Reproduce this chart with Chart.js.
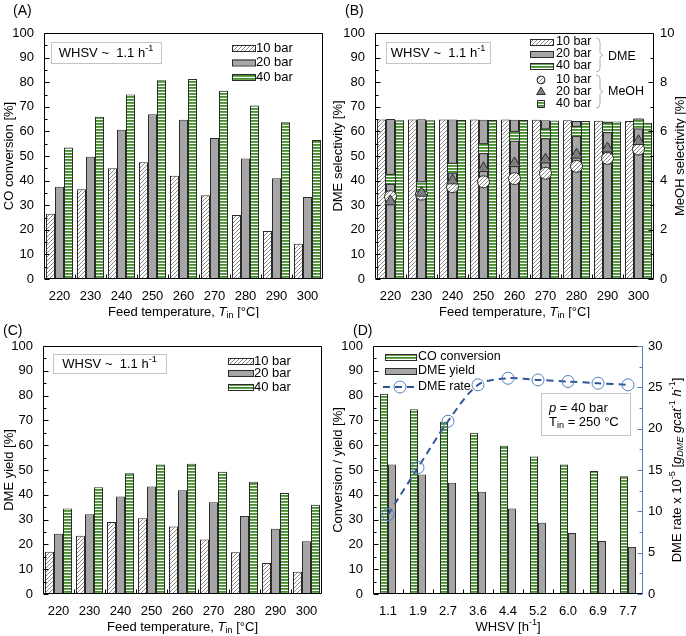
<!DOCTYPE html>
<html>
<head>
<meta charset="utf-8">
<script src="https://cdn.jsdelivr.net/npm/chart.js@4.4.0/dist/chart.umd.min.js"></script>
<style>
body { margin: 0; background: #fff; width: 686px; height: 636px; position: relative; overflow: hidden; }
canvas { position: absolute; }
</style>
</head>
<body>
<canvas id="chA" width="330" height="318" style="left:0;top:0"></canvas>
<canvas id="chB" width="361" height="318" style="left:325px;top:0"></canvas>
<canvas id="chC" width="330" height="318" style="left:0;top:318px"></canvas>
<canvas id="chD" width="361" height="318" style="left:325px;top:318px"></canvas>
<script>
// data
const temps = ['220', '230', '240', '250', '260', '270', '280', '290', '300']
const pressures = ['10 bar', '20 bar', '40 bar']

const coConv10 = [26.5, 36.5, 45.0, 47.5, 42.0, 34.0, 26.0, 19.5, 14.3]
const coConv20 = [37.5, 49.7, 60.7, 67.0, 64.7, 57.3, 49.0, 41.0, 33.3]
const coConv40 = [53.5, 66.0, 75.0, 80.8, 81.3, 76.5, 70.5, 63.7, 56.5]

const dmeSel10 = [64.8, 64.8, 64.8, 64.8, 64.8, 64.7, 64.5, 64.3, 64.2]
const dmeSel20 = [65.0, 64.9, 64.8, 64.7, 64.7, 64.5, 64.2, 64.0, 63.8]
const dmeSel40 = [64.5, 64.5, 64.6, 64.6, 64.6, 64.4, 64.2, 64.0, 63.5]
const meohSel10 = [3.35, 3.45, 3.75, 3.95, 4.08, 4.3, 4.58, 4.9, 5.28]
const meohSel20 = [3.15, 3.5, 4.0, 4.5, 4.7, 4.85, 5.05, 5.3, 5.6]
const meohSel40 = [4.05, 3.75, 4.5, 5.3, 5.8, 5.9, 6.0, 6.15, 6.3]

const dmeYield10 = [17.0, 23.5, 29.0, 30.5, 27.2, 22.0, 16.8, 12.5, 9.0]
const dmeYield20 = [24.3, 32.2, 39.3, 43.3, 41.8, 37.0, 31.5, 26.3, 21.3]
const dmeYield40 = [34.5, 43.0, 48.7, 52.2, 52.5, 49.3, 45.3, 40.7, 36.0]

const whsv = ['1.1', '1.9', '2.7', '3.6', '4.4', '5.2', '6.0', '6.9', '7.7']
const whsvCoConv = [80.7, 74.5, 69.5, 65.0, 59.8, 55.4, 52.2, 49.6, 47.5]
const whsvDmeYield = [52.2, 48.2, 44.9, 41.2, 34.5, 28.7, 24.6, 21.4, 19.0]
const whsvDmeRate = [9.6, 15.3, 20.9, 25.3, 26.1, 25.9, 25.7, 25.5, 25.3]

const FAM = '"Liberation Sans", Arial, sans-serif'
const edge = '#2b2b2b'
const grayFill = '#a6a6a6'
const boxLine = '#c4c4c4'
const blueLine = '#2f5597'
const bluePoint = '#4f81bd'

Chart.defaults.font.family = FAM
Chart.defaults.font.size = 13
Chart.defaults.color = '#000'

function makeHatch() {
  var c = document.createElement('canvas')
  c.width = 4; c.height = 4
  var g = c.getContext('2d')
  g.fillStyle = '#fff'; g.fillRect(0, 0, 4, 4)
  g.strokeStyle = '#8a8a8a'; g.lineWidth = 1
  g.beginPath()
  g.moveTo(0, 4); g.lineTo(4, 0)
  g.moveTo(-1, 1); g.lineTo(1, -1)
  g.moveTo(3, 5); g.lineTo(5, 3)
  g.stroke()
  return g.createPattern(c, 'repeat')
}

function makeStripes() {
  var c = document.createElement('canvas')
  c.width = 4; c.height = 3
  var g = c.getContext('2d')
  g.fillStyle = '#fff'; g.fillRect(0, 0, 4, 3)
  g.fillStyle = '#428e2b'; g.fillRect(0, 0, 4, 1.8)
  return g.createPattern(c, 'repeat')
}

const hatch = makeHatch()
const stripes = makeStripes()
const fills = [hatch, grayFill, stripes]

function font(size, italic) {
  return (italic ? 'italic ' : '') + size + 'px ' + FAM
}

// draws text with italic / sub / sup parts
function rich(ctx, segs, x, y, size, align) {
  var w = 0
  var parts = segs.map(function (s) {
    var sz = (s.sub || s.sup) ? size * 0.7 : size
    var f = font(sz, s.it)
    ctx.font = f
    var m = ctx.measureText(s.t).width
    w += m
    return { s: s, f: f, m: m, dy: s.sub ? size * 0.3 : (s.sup ? -size * 0.35 : 0) }
  })
  var cx = align === 'center' ? x - w / 2 : (align === 'right' ? x - w : x)
  ctx.textAlign = 'left'
  ctx.textBaseline = 'middle'
  ctx.fillStyle = '#000'
  parts.forEach(function (p) {
    ctx.font = p.f
    ctx.fillText(p.s.t, cx, y + p.dy)
    cx += p.m
  })
}

function vrich(ctx, segs, x, y, size) {
  ctx.save()
  ctx.translate(x, y)
  ctx.rotate(-Math.PI / 2)
  rich(ctx, segs, 0, 0, size, 'center')
  ctx.restore()
}

function swatch(ctx, x, y, w, h, fill) {
  ctx.fillStyle = fill
  ctx.fillRect(x, y, w, h)
  ctx.strokeStyle = edge
  ctx.lineWidth = 1
  ctx.strokeRect(x + 0.5, y + 0.5, w, h)
}

function infoBox(ctx, x, y, w, h) {
  ctx.strokeStyle = boxLine
  ctx.lineWidth = 1
  ctx.strokeRect(x + 0.5, y + 0.5, w, h)
}

function marker(ctx, style, x, y, r, fill) {
  ctx.fillStyle = fill
  ctx.strokeStyle = edge
  ctx.lineWidth = 1
  ctx.beginPath()
  if (style === 'circle') {
    ctx.arc(x, y, r, 0, Math.PI * 2)
  } else if (style === 'triangle') {
    ctx.moveTo(x, y - r)
    ctx.lineTo(x + r * 0.866, y + r * 0.5)
    ctx.lineTo(x - r * 0.866, y + r * 0.5)
    ctx.closePath()
  } else {
    ctx.rect(x - r * 0.7, y - r * 0.7, r * 1.4, r * 1.4)
  }
  ctx.fill()
  ctx.stroke()
}

function brace(ctx, x, y1, y2) {
  var ym = (y1 + y2) / 2
  ctx.strokeStyle = '#b0b0b0'
  ctx.lineWidth = 1
  ctx.beginPath()
  ctx.moveTo(x - 4, y1)
  ctx.quadraticCurveTo(x, y1, x, y1 + 4)
  ctx.lineTo(x, ym - 2)
  ctx.lineTo(x + 3, ym)
  ctx.lineTo(x, ym + 2)
  ctx.lineTo(x, y2 - 4)
  ctx.quadraticCurveTo(x, y2, x - 4, y2)
  ctx.stroke()
}

const whsvText = [{ t: 'WHSV ~  1.1 h' }, { t: '-1', sup: true }]
const feedTitle = [{ t: 'Feed temperature, ' }, { t: 'T', it: true }, { t: 'in', sub: true }, { t: ' [°C]' }]

// frame, inward ticks and the hand placed texts (one plugin per chart)
function decor(o) {
  return {
    id: 'decor',
    afterDraw(chart) {
      var ctx = chart.ctx
      var a = chart.chartArea
      var L = Math.round(a.left) + 0.5, R = Math.round(a.right) - 0.5
      var T = Math.round(a.top) + 0.5, B = Math.round(a.bottom) - 0.5
      ctx.save()
      ctx.lineWidth = 1
      ctx.strokeStyle = '#000'
      ctx.beginPath()
      ctx.moveTo(R, B); ctx.lineTo(L, B); ctx.lineTo(L, T); ctx.lineTo(R, T)
      if (!o.rightColor) ctx.lineTo(R, B)
      ctx.stroke()
      if (o.rightColor) {
        ctx.strokeStyle = o.rightColor
        ctx.beginPath(); ctx.moveTo(R, T); ctx.lineTo(R, B); ctx.stroke()
      }
      o.axes.forEach(function (ax) {
        var s = chart.scales[ax.id]
        ctx.strokeStyle = ax.color || '#000'
        for (var v = s.min; v <= s.max + 1e-9; v += ax.minor) {
          var y = Math.round(s.getPixelForValue(v)) + 0.5
          var major = Math.abs(v / ax.major - Math.round(v / ax.major)) < 1e-6
          var len = major ? 5 : 3
          ctx.beginPath()
          if (ax.side === 'left') { ctx.moveTo(L, y); ctx.lineTo(L + len, y) }
          else { ctx.moveTo(R, y); ctx.lineTo(R - len, y) }
          ctx.stroke()
        }
      })
      var n = chart.data.labels.length
      var cw = (a.right - a.left) / n
      ctx.strokeStyle = '#000'
      for (var i = 1; i < n; i++) {
        var x = Math.round(a.left + i * cw) + 0.5
        ctx.beginPath(); ctx.moveTo(x, B); ctx.lineTo(x, B - 4); ctx.stroke()
      }
      o.draw(ctx, a)
      ctx.restore()
    }
  }
}

function barSet(label, data, fill, cat) {
  return {
    type: 'bar', label: label, data: data, backgroundColor: fill,
    borderColor: edge, borderWidth: 1, barPercentage: 1, categoryPercentage: cat, order: 5
  }
}

function xScale(h) {
  return {
    grid: { display: false, drawTicks: false }, border: { display: false },
    ticks: { padding: 10, maxRotation: 0, autoSkip: false },
    afterFit: function (s) { s.height = h }
  }
}

function yScale(pos, max, step, w, pad) {
  return {
    position: pos, min: 0, max: max,
    grid: { display: false, drawTicks: false }, border: { display: false },
    ticks: { stepSize: step, padding: pad, crossAlign: 'near' },
    afterFit: function (s) { s.width = w }
  }
}

function baseOptions(pad, scales) {
  return {
    responsive: false, animation: false,
    layout: { padding: pad },
    scales: scales,
    plugins: { legend: { display: false }, tooltip: { enabled: false } }
  }
}

// plot widths are 9 whole categories of 31 px (30 px in D) so bar edges land on pixels
const cat3 = 27 / 31
const cat2 = 16 / 30

// (A) CO conversion
new Chart(document.getElementById('chA'), {
  data: {
    labels: temps,
    datasets: [
      barSet(pressures[0], coConv10, hatch, cat3),
      barSet(pressures[1], coConv20, grayFill, cat3),
      barSet(pressures[2], coConv40, stripes, cat3)
    ]
  },
  options: baseOptions({ top: 33, right: 7, left: 0, bottom: 0 },
    { x: xScale(39), y: yScale('left', 100, 10, 44, 10) }),
  plugins: [decor({
    axes: [{ id: 'y', side: 'left', minor: 5, major: 10 }],
    draw: function (ctx, a) {
      rich(ctx, [{ t: '(A)' }], 13, 11, 14, 'left')
      vrich(ctx, [{ t: 'CO conversion [%]' }], 9, (a.top + a.bottom) / 2, 13)
      rich(ctx, feedTitle, (a.left + a.right) / 2, a.bottom + 33, 13, 'center')
      infoBox(ctx, 51, 42, 110, 21)
      rich(ctx, whsvText, 106, 53, 13, 'center')
      var rows = [48, 62.5, 77]
      rows.forEach(function (y, i) {
        swatch(ctx, 232, y - 3, 23, 6, fills[i])
        rich(ctx, [{ t: pressures[i] }], 256, y, 13, 'left')
      })
    }
  })]
})

// (B) DME and MeOH selectivity
function pointSet(label, data, style, r, fill, order) {
  return {
    type: 'line', label: label, data: data, yAxisID: 'y2', showLine: false,
    pointStyle: style, pointRadius: r, backgroundColor: fill,
    borderColor: edge, borderWidth: 1, order: order
  }
}

new Chart(document.getElementById('chB'), {
  data: {
    labels: temps,
    datasets: [
      barSet(pressures[0], dmeSel10, hatch, cat3),
      barSet(pressures[1], dmeSel20, grayFill, cat3),
      barSet(pressures[2], dmeSel40, stripes, cat3),
      pointSet(pressures[0], meohSel10, 'circle', 6, hatch, 3),
      pointSet(pressures[1], meohSel20, 'triangle', 6.5, '#7f7f7f', 1),
      pointSet(pressures[2], meohSel40, 'rect', 7, stripes, 2)
    ]
  },
  options: baseOptions({ top: 33, right: 0, left: 0, bottom: 0 },
    { x: xScale(39), y: yScale('left', 100, 10, 50, 10), y2: yScale('right', 10, 2, 32, 6) }),
  plugins: [decor({
    axes: [
      { id: 'y', side: 'left', minor: 5, major: 10 },
      { id: 'y2', side: 'right', minor: 1, major: 2 }
    ],
    draw: function (ctx, a) {
      rich(ctx, [{ t: '(B)' }], 20, 11, 14, 'left')
      vrich(ctx, [{ t: 'DME selectivity [%]' }], 13, (a.top + a.bottom) / 2, 13)
      vrich(ctx, [{ t: 'MeOH selectivity [%]' }], 355, (a.top + a.bottom) / 2, 13)
      rich(ctx, feedTitle, (a.left + a.right) / 2, a.bottom + 33, 13, 'center')
      infoBox(ctx, 61, 42, 104, 21)
      rich(ctx, whsvText, 113, 53, 13, 'center')
      var barRows = [42, 54, 66]
      barRows.forEach(function (y, i) {
        swatch(ctx, 205, y - 3, 23, 6, fills[i])
        rich(ctx, [{ t: pressures[i] }], 231, y, 12.5, 'left')
      })
      var styles = ['circle', 'triangle', 'rect']
      var mFills = [hatch, '#7f7f7f', stripes]
      var mRad = [4, 5, 5]
      var markRows = [80, 92, 104]
      markRows.forEach(function (y, i) {
        marker(ctx, styles[i], 216, y, mRad[i], mFills[i])
        rich(ctx, [{ t: pressures[i] }], 231, y, 12.5, 'left')
      })
      brace(ctx, 275, 38, 72)
      brace(ctx, 275, 75, 108)
      rich(ctx, [{ t: 'DME' }], 283, 57, 12.5, 'left')
      rich(ctx, [{ t: 'MeOH' }], 283, 92, 12.5, 'left')
    }
  })]
})

// (C) DME yield
new Chart(document.getElementById('chC'), {
  data: {
    labels: temps,
    datasets: [
      barSet(pressures[0], dmeYield10, hatch, cat3),
      barSet(pressures[1], dmeYield20, grayFill, cat3),
      barSet(pressures[2], dmeYield40, stripes, cat3)
    ]
  },
  options: baseOptions({ top: 28, right: 8, left: 0, bottom: 0 },
    { x: xScale(42), y: yScale('left', 100, 10, 43, 10) }),
  plugins: [decor({
    axes: [{ id: 'y', side: 'left', minor: 5, major: 10 }],
    draw: function (ctx, a) {
      rich(ctx, [{ t: '(C)' }], 3, 13, 14, 'left')
      vrich(ctx, [{ t: 'DME yield [%]' }], 9, (a.top + a.bottom) / 2, 13)
      rich(ctx, feedTitle, (a.left + a.right) / 2, a.bottom + 33, 13, 'center')
      infoBox(ctx, 53, 36, 113, 19)
      rich(ctx, whsvText, 109.5, 46, 13, 'center')
      var rows = [43, 55, 69]
      rows.forEach(function (y, i) {
        swatch(ctx, 228, y - 3, 25, 6, fills[i])
        rich(ctx, [{ t: pressures[i] }], 254, y, 13, 'left')
      })
    }
  })]
})

// (D) effect of WHSV
new Chart(document.getElementById('chD'), {
  data: {
    labels: whsv,
    datasets: [
      barSet('CO conversion', whsvCoConv, stripes, cat2),
      barSet('DME yield', whsvDmeYield, grayFill, cat2),
      {
        type: 'line', label: 'DME rate', data: whsvDmeRate, yAxisID: 'y2',
        borderColor: blueLine, borderWidth: 2, borderDash: [7, 5], tension: 0.3,
        pointRadius: 6, pointBackgroundColor: 'rgba(0,0,0,0)',
        pointBorderColor: bluePoint, pointBorderWidth: 1, order: 0
      }
    ]
  },
  options: baseOptions({ top: 28, right: 0, left: 0, bottom: 0 },
    { x: xScale(42), y: yScale('left', 100, 10, 48, 10), y2: yScale('right', 30, 5, 43, 5) }),
  plugins: [decor({
    rightColor: bluePoint,
    axes: [
      { id: 'y', side: 'left', minor: 5, major: 10 },
      { id: 'y2', side: 'right', minor: 2.5, major: 5, color: bluePoint }
    ],
    draw: function (ctx, a) {
      rich(ctx, [{ t: '(D)' }], 28, 13, 14, 'left')
      vrich(ctx, [{ t: 'Conversion / yield [%]' }], 13, (a.top + a.bottom) / 2, 13)
      vrich(ctx, [
        { t: 'DME rate x 10' }, { t: '-5', sup: true }, { t: ' [' },
        { t: 'g', it: true }, { t: 'DME', it: true, sub: true }, { t: ' gcat', it: true },
        { t: '-1', sup: true }, { t: ' h', it: true }, { t: '-1', sup: true }, { t: ']' }
      ], 352, (a.top + a.bottom) / 2, 13)
      rich(ctx, [{ t: 'WHSV [h' }, { t: '-1', sup: true }, { t: ']' }], (a.left + a.right) / 2, a.bottom + 33, 13, 'center')
      swatch(ctx, 60, 36, 31, 6, stripes)
      rich(ctx, [{ t: 'CO conversion' }], 93, 39, 12.5, 'left')
      swatch(ctx, 60, 50, 31, 6, grayFill)
      rich(ctx, [{ t: 'DME yield' }], 93, 53, 12.5, 'left')
      ctx.strokeStyle = blueLine
      ctx.lineWidth = 2
      ctx.setLineDash([7, 5])
      ctx.beginPath(); ctx.moveTo(58, 69); ctx.lineTo(92, 69); ctx.stroke()
      ctx.setLineDash([])
      ctx.lineWidth = 1
      ctx.strokeStyle = bluePoint
      ctx.beginPath(); ctx.arc(75, 69, 6, 0, Math.PI * 2); ctx.stroke()
      rich(ctx, [{ t: 'DME rate' }], 93, 69, 12.5, 'left')
      ctx.fillStyle = '#fff'
      ctx.fillRect(216, 75, 89, 42)
      infoBox(ctx, 216, 75, 89, 42)
      rich(ctx, [{ t: 'p', it: true }, { t: ' = 40 bar' }], 224, 90, 13, 'left')
      rich(ctx, [{ t: 'T' }, { t: 'in', sub: true }, { t: ' = 250 °C' }], 224, 104, 13, 'left')
    }
  })]
})
</script>
</body>
</html>
